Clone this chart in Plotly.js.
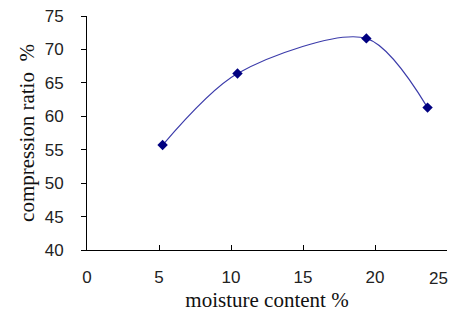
<!DOCTYPE html>
<html>
<head>
<meta charset="utf-8">
<script src="https://cdn.plot.ly/plotly-3.0.1.min.js"></script>
<style>html,body{margin:0;padding:0;background:#fff;}#chart{width:451px;height:312px;}</style>
</head>
<body>
<div id="chart"></div>
<script>
const moisture = [5.25, 10.45, 19.4, 23.65];
const compression = [55.7, 66.4, 71.65, 61.3];
const xTicks = [0, 5, 10, 15, 20, 25];
const yTicks = [40, 45, 50, 55, 60, 65, 70, 75];

const trace = {
  x: moisture,
  y: compression,
  type: 'scatter',
  mode: 'lines+markers',
  line: {shape: 'spline', smoothing: 0.85, color: '#3b3baa', width: 1.2},
  marker: {symbol: 'diamond', size: 8, color: '#000080'},
  cliponaxis: false,
  showlegend: false
};

const tickFont = {family: '"Liberation Sans", sans-serif', size: 17, color: '#222'};
const titleFont = {family: '"Liberation Serif", "DejaVu Serif", serif', size: 21, color: '#111'};

const lastX = xTicks[xTicks.length - 1];
const xText = xTicks.map(v => v === lastX ? '' : String(v));

const layout = {
  width: 451, height: 312,
  margin: {l: 87, r: 4, t: 16, b: 62},
  paper_bgcolor: '#fff', plot_bgcolor: '#fff',
  xaxis: {
    range: [0, 25], tickvals: xTicks, ticktext: xText,
    showgrid: false, zeroline: false, showline: true, linecolor: '#000', linewidth: 1,
    ticks: 'inside', ticklen: 5, tickcolor: '#000', tickfont: tickFont,
    ticklabelstandoff: 12,
    title: {text: 'moisture content %', font: titleFont, standoff: 6}
  },
  yaxis: {
    range: [40, 75], tickvals: yTicks, ticktext: yTicks.map(String),
    showgrid: false, zeroline: false, showline: true, linecolor: '#000', linewidth: 1,
    ticks: 'outside', ticklen: 5, tickcolor: '#000', tickfont: tickFont,
    ticklabelstandoff: 14,
    title: {text: 'compression ratio  %', font: titleFont, standoff: 4}
  },
  annotations: [{
    x: lastX, xref: 'x', y: 0, yref: 'paper', yshift: -28,
    text: String(lastX), showarrow: false, xanchor: 'right', yanchor: 'middle',
    xshift: 3, font: tickFont
  }]
};

Plotly.newPlot('chart', [trace], layout, {displayModeBar: false, staticPlot: true});
</script>
</body>
</html>
